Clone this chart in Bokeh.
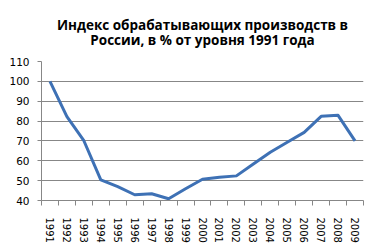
from bokeh.plotting import figure
from bokeh.models import FixedTicker, Range1d, Title
from bokeh.embed import file_html
from bokeh.resources import INLINE

years = [str(y) for y in range(1991, 2010)]
index_values = [100, 82.2, 70.1, 50.4, 47.0, 42.9, 43.4, 40.9, 45.9, 50.7,
                51.7, 52.4, 58.4, 64.3, 69.3, 74.3, 82.4, 82.9, 70.0]
y_ticks = [40, 50, 60, 70, 80, 90, 100, 110]
title_text = "Индекс обрабатывающих производств в\nРоссии, в % от уровня 1991 года"

xs = list(range(1, len(years) + 1))
bounds = [i + 0.5 for i in range(0, len(years) + 1)]

p = figure(frame_width=322, frame_height=139, output_backend="svg", toolbar_location=None,
           x_range=Range1d(0.5, len(years) + 0.5), y_range=Range1d(40, 110),
           min_border_left=41, min_border_right=7, min_border_bottom=47, min_border_top=61)

p.title = Title(text=title_text, align="center", text_align="center", offset=-29,
                text_font="Open Sans", text_font_size="13.5px", text_line_height=0.85,
                text_font_style="bold", text_color="#000000", standoff=24)
p.outline_line_color = None
p.background_fill_color = "white"
p.border_fill_color = "white"

p.line(xs, index_values, line_color="#3E71B5", line_width=3, line_join="round")

grid_color = "#878787"
p.xgrid.grid_line_color = None
p.ygrid.grid_line_color = grid_color
p.ygrid.grid_line_width = 1
p.ygrid.ticker = FixedTicker(ticks=y_ticks)

ya = p.yaxis[0]
ya.ticker = FixedTicker(ticks=y_ticks)
ya.axis_line_color = grid_color
ya.major_tick_line_color = grid_color
ya.major_tick_in = 0
ya.major_tick_out = 4
ya.minor_tick_line_color = None
ya.major_label_standoff = 8
ya.major_label_text_font = "DejaVu Sans"
ya.major_label_text_font_size = "10.5px"
ya.major_label_text_color = "#000000"

xa = p.xaxis[0]
xa.ticker = FixedTicker(ticks=xs, minor_ticks=bounds)
xa.major_label_overrides = {x: y for x, y in zip(xs, years)}
xa.axis_line_color = grid_color
xa.major_tick_line_color = None
xa.major_tick_in = 0
xa.major_tick_out = 0
xa.minor_tick_line_color = grid_color
xa.minor_tick_in = 0
xa.minor_tick_out = 5
xa.major_label_orientation = "vertical"
xa.major_label_standoff = 12
xa.major_label_text_font = "DejaVu Sans"
xa.major_label_text_font_size = "10px"
xa.major_label_text_color = "#000000"

open("out.html", "w").write(file_html(p, INLINE))
